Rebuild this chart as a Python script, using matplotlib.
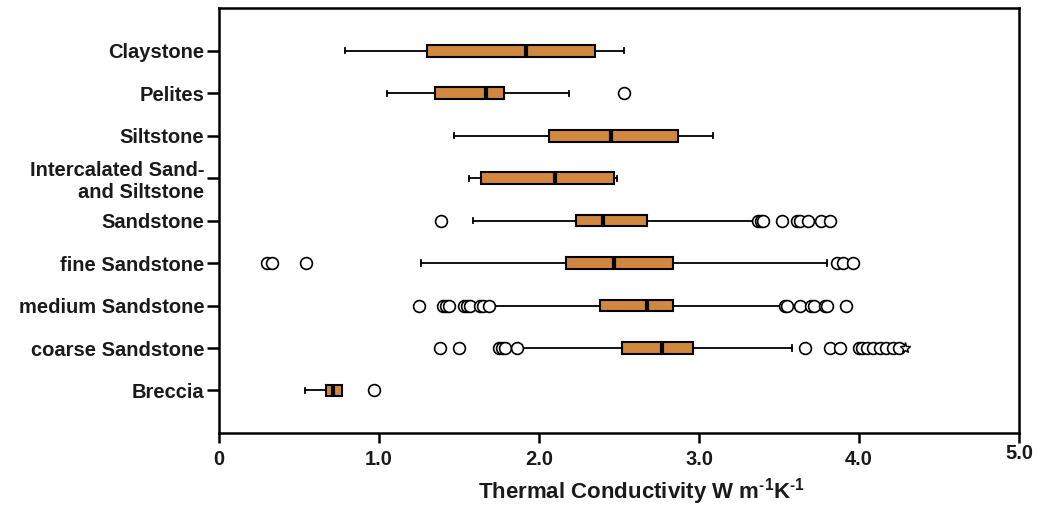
import numpy as np
import matplotlib
matplotlib.use("Agg")
from matplotlib import pyplot as plt
from matplotlib.transforms import ScaledTranslation

plt.rcParams['font.family'] = ['Liberation Sans', 'DejaVu Sans']
plt.rcParams['font.weight'] = 'bold'
plt.rcParams['mathtext.fontset'] = 'custom'
plt.rcParams['mathtext.rm'] = 'Liberation Sans:bold'
plt.rcParams['mathtext.bf'] = 'Liberation Sans:bold'
plt.rcParams['mathtext.default'] = 'bf'

rocks = ["Claystone", "Pelites", "Siltstone", "Intercalated Sand-\nand Siltstone",
         "Sandstone", "fine Sandstone", "medium Sandstone", "coarse Sandstone", "Breccia"]
whislo = [0.79, 1.05, 1.47, 1.56, 1.59, 1.26, 1.69, 1.89, 0.54]
q1 = [1.30, 1.35, 2.06, 1.64, 2.23, 2.17, 2.38, 2.52, 0.67]
med = [1.92, 1.67, 2.45, 2.10, 2.40, 2.47, 2.675, 2.77, 0.715]
q3 = [2.35, 1.78, 2.87, 2.47, 2.675, 2.84, 2.84, 2.96, 0.77]
whishi = [2.53, 2.19, 3.09, 2.49, 3.35, 3.80, 3.51, 3.58, 0.77]
outliers = [
    [],
    [2.53],
    [],
    [],
    [1.39, 3.37, 3.39, 3.40, 3.52, 3.61, 3.63, 3.68, 3.76, 3.82],
    [0.30, 0.33, 0.546, 3.86, 3.90, 3.96],
    [1.25, 1.40, 1.42, 1.44, 1.53, 1.55, 1.57, 1.63, 1.65, 1.69,
     3.54, 3.55, 3.63, 3.70, 3.72, 3.79, 3.80, 3.92],
    [1.38, 1.50, 1.75, 1.77, 1.79, 1.86, 3.66, 3.82, 3.88,
     4.00, 4.02, 4.05, 4.09, 4.13, 4.17, 4.21, 4.25],
    [0.97],
]
extremes = [[], [], [], [], [], [], [], [4.29], []]

stats = []
for i, name in enumerate(rocks):
    stats.append(dict(label=name, whislo=whislo[i], q1=q1[i], med=med[i],
                      q3=q3[i], whishi=whishi[i], fliers=outliers[i]))

positions = np.arange(1, len(rocks) + 1)

fig = plt.figure(figsize=(10.37, 5.07), dpi=100)
ax = fig.add_axes([0.2112, 0.146, 0.7715, 0.838])

ax.bxp(stats, positions=positions, vert=False, widths=0.28, patch_artist=True,
       capwidths=0.12,
       boxprops=dict(facecolor='#d2873f', edgecolor='black', linewidth=1.5),
       medianprops=dict(color='black', linewidth=3),
       whiskerprops=dict(color='black', linewidth=1.3),
       capprops=dict(color='black', linewidth=1.3),
       flierprops=dict(marker='o', markerfacecolor='white', markeredgecolor='black',
                       markersize=8.5, markeredgewidth=1.2))

for i, ext in enumerate(extremes):
    if ext:
        ax.plot(ext, [positions[i]] * len(ext), linestyle='none', marker='*',
                markersize=8, markerfacecolor='white', markeredgecolor='black',
                markeredgewidth=1.0)

ax.set_ylim(10, 0)
ax.set_xlim(0, 5)
ax.set_yticks(positions)
ax.set_yticklabels(rocks, fontsize=14.5, fontweight='bold', color='#1a1a1a')
ax.set_xticks([0, 1, 2, 3, 4, 5])
ax.set_xticklabels(["0", "1.0", "2.0", "3.0", "4.0", "5.0"], fontsize=14.5,
                   fontweight='bold', color='#1a1a1a')
ax.tick_params(axis='y', direction='out', length=9, width=1.8, pad=1.5)
ax.tick_params(axis='x', direction='out', length=7.5, width=1.8, pad=5)
for s in ax.spines.values():
    s.set_linewidth(1.8)

# the last tick label sits a little higher in the original
lbl = ax.get_xticklabels()[-1]
lbl.set_transform(lbl.get_transform() + ScaledTranslation(0.005, 0.06, fig.dpi_scale_trans))

ax.set_xlabel(r'Thermal Conductivity W m$^{\text{-1}}$K$^{\text{-1}}$', fontsize=16,
              fontweight='bold', color='#1a1a1a')
ax.xaxis.set_label_coords(0.5275, -0.102)

fig.savefig("out.png", dpi=100)
